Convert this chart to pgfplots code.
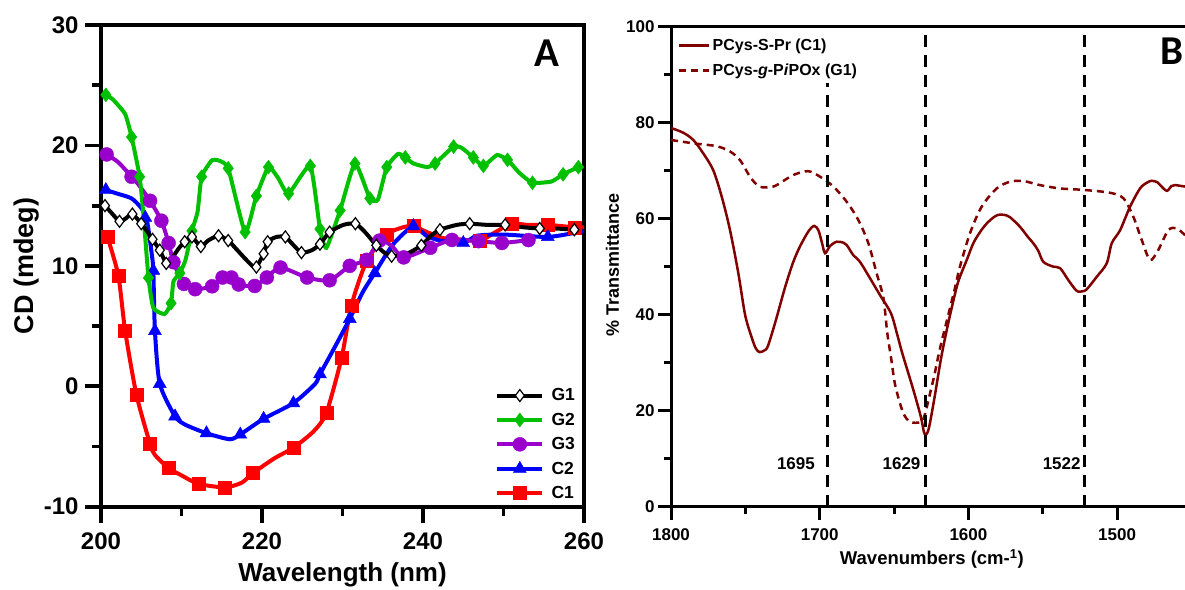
\documentclass[border=0pt]{standalone}
\usepackage{pgfplots}
\pgfplotsset{compat=1.18}
\usepackage{fontspec}
\setmainfont{Liberation Sans}
\newfontfamily\calibri{Carlito}
\definecolor{cGreen}{HTML}{00C000}
\definecolor{cPurple}{HTML}{9900CC}
\definecolor{cBlue}{HTML}{0000FF}
\definecolor{cRed}{HTML}{FF0000}
\definecolor{cMaroon}{HTML}{800000}
\pgfplotsset{
  mkleg/.style={legend image code/.code={\draw[line width=4bp,#1] (0bp,0bp)--(45bp,0bp); \draw[##1] plot coordinates {(22.5bp,0bp)}; \path (52bp,0bp);}},
  lineleg/.style={legend image code/.code={\draw[##1] (0bp,0bp)--(30bp,0bp);}},
}
\begin{document}
\begin{tikzpicture}[x=1bp,y=1bp]
\useasboundingbox (0,0) rectangle (1185,590);
% ---------------- Panel A ----------------
\begin{axis}[
  at={(101bp,83.3bp)}, anchor=south west, scale only axis,
  width=483bp, height=481.7bp,
  xmin=200, xmax=260, ymin=-10, ymax=30,
  xtick={200,220,240,260}, ytick={-10,0,10,20,30},
  minor x tick num=1, minor y tick num=1,
  tick align=outside, xtick pos=bottom, ytick pos=left,
  major tick length=16bp, minor tick length=9bp,
  axis line style={line width=3.8bp},
  tick style={line width=3.8bp, black},
  /pgf/number format/assume math mode=true,
  tick label style={font=\fontsize{24bp}{26bp}\selectfont\bfseries},
  xticklabel style={yshift=-7bp},
  yticklabel style={xshift=-3bp},
  xlabel={Wavelength (nm)},
  ylabel={CD (mdeg)},
  xlabel style={font=\fontsize{26bp}{28bp}\selectfont\bfseries, at={(axis description cs:0.5,-0.156)}, anchor=base},
  ylabel style={font=\fontsize{27bp}{29bp}\selectfont\bfseries, at={(axis description cs:-0.139,0.5)}, anchor=base},
  legend style={draw=none, fill=none, at={(0.816,0.2495)}, anchor=north west,
    font=\fontsize{17.5bp}{19bp}\selectfont\bfseries, inner sep=0pt, row sep=6.7bp},
  legend cell align=left,
  reverse legend,
]
% C1
\addplot[cRed, line width=4bp, smooth, tension=0.4, forget plot] coordinates {
(200.8,12.4) (202.15,9.2) (203.0,4.6) (204.4,-0.7) (206.1,-4.8) (206.7,-5.7) (208.4,-6.8) (210,-7.4) (212.1,-8.1) (215.4,-8.4) (217.5,-8.0) (218.9,-7.2) (221.5,-6.0) (223.9,-5.1) (226.4,-3.75) (228.0,-2.2) (229.9,2.4) (231.1,6.7) (233.0,10.4) (235.5,12.6) (237.5,13.2) (238.8,13.3) (240.5,12.8) (242.5,12.3) (244.5,12.2) (247.1,12.1) (249,12.8) (251.0,13.5) (253,13.4) (255.5,13.4) (258.8,13.2) (260,13.2)};
\addplot[only marks, cRed, mark=square*, mark size=6.5bp, mkleg=cRed] coordinates {
(200.8,12.4) (202.15,9.2) (203.0,4.6) (204.4,-0.7) (206.1,-4.8) (208.4,-6.8) (212.1,-8.1) (215.4,-8.4) (218.9,-7.2) (223.9,-5.1) (228.0,-2.2) (229.9,2.4) (231.1,6.7) (233.0,10.4) (235.5,12.6) (238.8,13.3) (247.1,12.1) (251.0,13.5) (255.5,13.4) (258.8,13.2)};
\addlegendentry{C1}
% C2
\addplot[cBlue, line width=4bp, smooth, tension=0.4, forget plot] coordinates {
(200.6,16.3) (202,16.0) (203.8,15.6) (205.0,14.8) (205.7,13.8) (206.3,11) (206.5,9.6) (206.7,4.6) (207.3,0.2) (209.2,-2.5) (210.5,-3.2) (213.1,-3.9) (216.0,-4.4) (217.3,-4.0) (220.2,-2.7) (223.9,-1.4) (226.6,0.2) (227.2,1.0) (229,3.2) (230.9,5.6) (232.5,7.8) (234.0,9.4) (236.3,11.8) (238.8,13.3) (240.4,12.5) (242.1,12.1) (245.0,11.9) (246.7,12.5) (250.0,12.6) (255.5,12.4) (259.3,12.8) (260,12.9)};
\addplot[only marks, cBlue, mark=triangle*, mark size=7.5bp, mkleg=cBlue] coordinates {
(200.6,16.3) (205.5,14.0) (206.5,9.6) (206.7,4.6) (207.3,0.2) (209.2,-2.5) (213.1,-3.9) (217.3,-4.0) (220.2,-2.7) (223.9,-1.4) (227.2,1.0) (230.9,5.6) (234.0,9.4) (238.8,13.3) (245.0,11.9) (255.5,12.4)};
\addlegendentry{C2}
% G3
\addplot[cPurple, line width=4bp, smooth, tension=0.4, forget plot] coordinates {
(200.7,19.25) (202.15,18.6) (203.8,17.4) (204.6,16.8) (206.1,15.4) (207.5,13.75) (208.4,11.9) (209.0,10.3) (210.3,8.5) (211.7,8.06) (213.8,8.3) (215.1,9.03) (216.2,9.03) (217.1,8.45) (219.1,8.33) (220.6,9.03) (222.3,9.86) (225.6,9.03) (228.4,8.8) (230.9,10.0) (233.0,10.5) (234.6,12.1) (236.1,11.67) (237.6,10.7) (240.9,11.5) (243.6,12.15) (246.9,12.05) (249.8,11.9) (253.1,12.14)};
\addplot[only marks, cPurple, mark=*, mark size=7bp, mkleg=cPurple] coordinates {
(200.7,19.25) (203.8,17.4) (206.1,15.4) (207.5,13.75) (208.4,11.9) (209.0,10.3) (210.3,8.5) (211.7,8.06) (213.8,8.3) (215.1,9.03) (216.2,9.03) (217.1,8.45) (219.1,8.33) (220.6,9.03) (222.3,9.86) (225.6,9.03) (228.4,8.8) (230.9,10.0) (233.0,10.5) (234.6,12.1) (237.6,10.7) (240.9,11.5) (243.6,12.15) (246.9,12.05) (249.8,11.9) (253.1,12.14)};
\addlegendentry{G3}
% G2
\addplot[cGreen, line width=4bp, smooth, tension=0.3, forget plot] coordinates {
(200.6,24.2) (201.5,23.8) (203.0,22.6) (203.8,20.7) (204.8,17.4) (205.3,14) (205.9,9.0) (206.5,6.5) (207.9,6.0) (208.7,6.9) (209.0,8.7) (209.8,9.4) (210.5,10.5) (211.3,12.9) (212.0,14.5) (212.5,17.4) (213.75,18.75) (214.6,18.75) (215.8,18.1) (217.9,12.8) (219.3,15.8) (220.8,18.2) (222.0,17.3) (223.3,16.0) (226.0,18.3) (227.2,13.06) (228.0,11.5) (229.7,14.6) (231.55,18.5) (233.4,15.6) (234.4,15.5) (235.5,18.2) (236.9,19.3) (237.8,19.0) (238.8,18.5) (240.5,18.2) (241.5,18.5) (243.8,19.9) (244.8,19.8) (246.25,19.0) (247.5,18.3) (249.2,19.2) (250.5,18.8) (252,17.7) (253.6,16.9) (255.95,17.0) (257.4,17.6) (259.3,18.2)};
\addplot[only marks, cGreen, mark=diamond*, mark size=7bp, mkleg=cGreen] coordinates {
(200.6,24.2) (203.8,20.7) (204.8,17.4) (205.9,9.0) (208.7,6.9) (209.8,9.4) (211.3,12.9) (212.5,17.4) (215.8,18.1) (217.9,12.8) (219.3,15.8) (220.8,18.2) (223.3,16.0) (226.0,18.3) (227.2,13.06) (229.7,14.6) (231.55,18.5) (233.4,15.6) (235.5,18.2) (237.8,19.0) (241.5,18.5) (243.8,19.9) (246.25,19.0) (247.5,18.3) (250.5,18.8) (253.6,16.9) (257.4,17.6) (259.3,18.2)};
\addlegendentry{G2}
% G1
\addplot[black, line width=4bp, smooth, tension=0.4, forget plot] coordinates {
(200.5,15.0) (201.3,14.4) (202.3,13.7) (203.0,13.9) (203.9,14.3) (205.0,13.5) (205.8,12.8) (206.4,12.2) (207.3,11.3) (208.1,10.2) (208.6,10.4) (209.6,11.4) (210.4,12.0) (211.3,12.4) (212.4,11.6) (213.3,12.1) (214.6,12.5) (215.8,12.1) (216.8,11.4) (217.9,10.6) (218.8,10.0) (219.3,9.9) (220.2,11.0) (220.7,12.0) (221.8,12.4) (222.9,12.4) (223.8,11.8) (224.9,11.1) (226.2,11.3) (227.2,11.8) (228.4,12.8) (230.1,13.4) (231.6,13.5) (232.8,12.8) (234.2,11.7) (235.2,11.1) (236.1,10.8) (238.0,11.0) (239.8,11.7) (241.0,12.5) (242.1,13.0) (244.2,13.4) (245.8,13.5) (248,13.4) (250.2,13.4) (252.5,13.2) (254.5,13.1) (256.5,13.1) (258.8,13.0) (259.8,13.0)};
\addplot[only marks, black, mark=diamond*, mark size=6bp, mark options={fill=white, line width=1.2bp}, mkleg=black] coordinates {
(200.5,15.0) (202.3,13.7) (203.9,14.3) (205.0,13.5) (206.4,12.2) (207.3,11.3) (208.1,10.2) (210.4,12.0) (211.3,12.4) (212.4,11.6) (214.6,12.5) (215.8,12.1) (219.3,9.9) (220.2,11.0) (220.7,12.0) (222.9,12.4) (224.9,11.1) (227.2,11.8) (228.4,12.8) (231.6,13.5) (234.2,11.7) (236.1,10.8) (239.8,11.7) (242.1,13.0) (245.8,13.5) (250.2,13.4) (254.5,13.1) (258.8,13.0)};
\addlegendentry{G1}
\end{axis}
\node[font=\calibri\bfseries\fontsize{41bp}{44bp}\selectfont] at (547,537) {A};
% ---------------- Panel B ----------------
\begin{axis}[
  at={(671bp,83.3bp)}, anchor=south west, scale only axis,
  width=517.5bp, height=480bp,
  x dir=reverse,
  xmin=1452, xmax=1800, ymin=0, ymax=100,
  xtick={1500,1600,1700,1800}, ytick={0,20,40,60,80,100},
  minor x tick num=1, minor y tick num=1,
  tick align=outside, xtick pos=bottom, ytick pos=left,
  major tick length=13bp, minor tick length=7bp,
  axis line style={line width=3bp},
  tick style={line width=3bp, black},
  /pgf/number format/assume math mode=true,
  /pgf/number format/1000 sep={},
  tick label style={font=\fontsize{17bp}{19bp}\selectfont\bfseries},
  xticklabel style={yshift=-5bp},
  xlabel={Wavenumbers (cm-\textsuperscript{1})},
  ylabel={\% Transmittance},
  xlabel style={font=\fontsize{18.5bp}{20bp}\selectfont\bfseries, at={(axis description cs:0.504,-0.121)}, anchor=base},
  ylabel style={font=\fontsize{18bp}{20bp}\selectfont\bfseries, at={(axis description cs:-0.1005,0.503)}, anchor=base},
  legend style={draw=none, fill=none, at={(0.0136,0.9787)}, anchor=north west,
    font=\fontsize{16bp}{18bp}\selectfont\bfseries, inner sep=0pt, row sep=8bp},
  legend cell align=left,
  lineleg,
]
\addplot[cMaroon, line width=2.5bp, smooth, tension=0.5] coordinates {
(1800,78.9) (1791.7,77.9) (1785,76.4) (1778.3,73.6) (1771.6,70.1) (1765.9,64.6) (1760.3,57.6) (1754.7,48.6) (1750.2,40.0) (1746,35.5) (1743,33.0) (1740.4,32.2) (1737,32.6) (1734.8,33.5) (1729.8,38.5) (1723.5,45.5) (1718,50.8) (1713.3,54.2) (1707.7,57.3) (1703.8,58.5) (1700.9,57.6) (1698.5,55) (1696.4,52.8) (1693.1,54.3) (1688.6,55.2) (1684,55) (1681.8,54.5) (1677.4,52.4) (1672.9,51.0) (1666.2,47.6) (1659.5,44.1) (1652.1,40.3) (1648,36) (1644.5,32.0) (1637.0,24.3) (1632.0,18.75) (1629.5,15.2) (1626.9,16.0) (1623.1,22.2) (1618.2,31.25) (1613.1,38.9) (1608.1,45.5) (1605.7,47.9) (1601,51.5) (1596.7,54.9) (1592,57.3) (1587.7,59.0) (1583,60.3) (1579.9,60.8) (1576,60.8) (1572.0,60.3) (1565.3,58.3) (1560,56.2) (1556.4,54.9) (1553,53.3) (1549.6,51.0) (1542.9,50.0) (1538.4,49.7) (1532.8,47.2) (1528.5,45.4) (1526.1,44.8) (1523,44.9) (1520.4,45.3) (1513.7,47.9) (1507.0,50.7) (1503.6,54.9) (1498.0,57.6) (1491.3,62.5) (1484.6,66.3) (1480,67.5) (1476.7,67.9) (1473,67.6) (1471.1,67.0) (1466.6,65.8) (1463.5,66.8) (1461.1,67.0) (1454.4,66.7) (1450,66.7)};
\addlegendentry{PCys-S-Pr (C1)}
\addplot[cMaroon, line width=2.5bp, dash pattern=on 7bp off 5bp, smooth, tension=0.5] coordinates {
(1800,76.4) (1785,75.7) (1769.3,75.1) (1760.3,74.0) (1753.6,72.2) (1746.9,68.75) (1742,67) (1738,66.5) (1733,66.6) (1728.9,67.0) (1717.7,69.1) (1707.7,69.9) (1699.8,68.75) (1690.8,66.7) (1681.8,63.5) (1674.0,59.7) (1667.3,54.9) (1661.7,48.6) (1657.2,43.5) (1654.5,36) (1652,31) (1649.5,25.7) (1646,21.5) (1643.2,19.1) (1640,17.8) (1637.0,17.5) (1631.5,17.7) (1629,19.5) (1626.9,22.2) (1623.1,27.1) (1619.4,32.6) (1614.4,38.9) (1609.4,45.1) (1605.7,50) (1598.9,57) (1591.1,62.5) (1581,66.3) (1572,67.7) (1563.1,67.85) (1551.9,67.0) (1538.4,66.3) (1522.7,66.0) (1504.8,65.4) (1495.8,64.25) (1489.1,60.4) (1483.5,55.6) (1477.9,51.4) (1472.3,53.5) (1465.6,57.6) (1460,58.0) (1454.4,56.6) (1450,55.5)};
\addlegendentry{PCys-\textit{g}-P\textit{i}POx (G1)}
\addplot[black, line width=3bp, dash pattern=on 12bp off 8bp, forget plot] coordinates {(1695,0) (1695,88.3)};
\addplot[black, line width=3bp, dash pattern=on 12bp off 8bp, forget plot] coordinates {(1629,0) (1629,98.3)};
\addplot[black, line width=3bp, dash pattern=on 12bp off 8bp, forget plot] coordinates {(1522,0) (1522,99.3)};
\node[font=\fontsize{17bp}{19bp}\selectfont\bfseries] at (axis cs:1716,9.04) {1695};
\node[font=\fontsize{17bp}{19bp}\selectfont\bfseries] at (axis cs:1645,9.04) {1629};
\node[font=\fontsize{17bp}{19bp}\selectfont\bfseries] at (axis cs:1537.3,9.04) {1522};
\end{axis}
\node[font=\calibri\bfseries\fontsize{41bp}{44bp}\selectfont] at (1172,539) {B};
\end{tikzpicture}
\end{document}
